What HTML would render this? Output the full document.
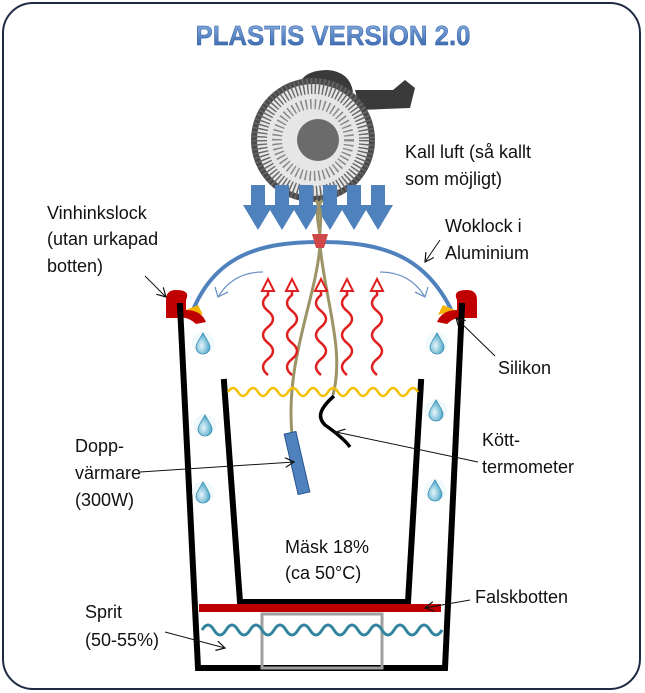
<!DOCTYPE html><html><head><meta charset="utf-8"><style>body{margin:0;background:#fff}svg{display:block}text{font-family:"Liberation Sans",sans-serif;font-size:18px;fill:#111}</style></head><body>
<svg width="645" height="693" viewBox="0 0 645 693" xmlns="http://www.w3.org/2000/svg">
<defs>
<linearGradient id="tg" x1="0" y1="0" x2="0" y2="1"><stop offset="0" stop-color="#8fb4e3"/><stop offset="1" stop-color="#2f5fa8"/></linearGradient>
<marker id="ar" markerWidth="10" markerHeight="10" refX="9" refY="5" orient="auto"><path d="M0,0 L9,5 L0,10" fill="none" stroke="#111" stroke-width="1.2"/></marker>
<radialGradient id="dg" cx="0.4" cy="0.6" r="0.6"><stop offset="0" stop-color="#e8f6fb"/><stop offset="1" stop-color="#4aa6c8"/></radialGradient>
<g id="drop"><circle r="11" fill="#eaf6fb" opacity="0.7"/><path d="M0,-10 C4,-3 7,1 7,4 A7,7 0 0 1 -7,4 C-7,1 -4,-3 0,-10Z" fill="url(#dg)" stroke="#3a8fb5" stroke-width="0.8"/></g>
<g id="sq"><path d="M0,90 q-10,-8 0,-16 q10,-8 0,-16 q-10,-8 0,-16 q10,-8 0,-16 q-10,-8 0,-16 l0,-6" fill="none" stroke="#e02020" stroke-width="2.5"/><path d="M-6,6 L0,-6 L6,6 Z" fill="#fff" stroke="#e02020" stroke-width="2"/></g>
</defs>
<rect x="3" y="3" width="637" height="686" rx="30" fill="#fff" stroke="#1f2a44" stroke-width="2"/>
<text x="333" y="45" text-anchor="middle" textLength="275" lengthAdjust="spacingAndGlyphs" style="font-size:28px;font-weight:bold;fill:url(#tg);stroke:#2f5fa8;stroke-width:0.5">PLASTIS VERSION 2.0</text>
<!-- fan -->
<path d="M298,90 q2,-20 30,-20 q22,2 25,22 z" fill="#3a3a3a"/>
<path d="M355,90 l38,0 l12,-10 l10,8 l-5,20 l-50,2z" fill="#3a3a3a"/>
<circle cx="313" cy="140" r="62" fill="#4a4a4a"/>
<circle cx="313" cy="140" r="56" fill="#e6e6e6"/>
<circle cx="313" cy="140" r="54" fill="none" stroke="#666" stroke-width="16" stroke-dasharray="1.5 2.5"/>
<circle cx="313" cy="140" r="36" fill="none" stroke="#888" stroke-width="10" stroke-dasharray="1.5 3"/>
<circle cx="318" cy="140" r="21" fill="#6b6b6b"/>
<!-- blue arrows -->
<g fill="#4f81bd">
<path d="M251,185h14v20h8l-15,25l-15,-25h8z"/><path d="M275,185h14v20h8l-15,25l-15,-25h8z"/><path d="M299,185h14v20h8l-15,25l-15,-25h8z"/><path d="M323,185h14v20h8l-15,25l-15,-25h8z"/><path d="M347,185h14v20h8l-15,25l-15,-25h8z"/><path d="M371,185h14v20h8l-15,25l-15,-25h8z"/>
</g>
<!-- wires -->
<path d="M316,200 C325,215 318,230 320,245 C316,300 285,360 292,435" fill="none" stroke="#9c9466" stroke-width="3"/>
<path d="M322,200 C312,215 322,230 320,245 C325,300 345,350 333,395" fill="none" stroke="#9c9466" stroke-width="3"/>
<!-- dome -->
<path d="M190,318 C212,255 260,242 320,242 C382,242 428,255 455,318" fill="none" stroke="#4f81bd" stroke-width="4"/>
<path d="M312,234 h16 l-4,14 h-8z" fill="#d04848"/>
<path d="M263,272 q-30,0 -45,25 M215,287 l3,10 l10,-5" fill="none" stroke="#6d93c6" stroke-width="1.3"/>
<path d="M380,272 q30,0 45,25 M428,287 l-3,10 l-10,-5" fill="none" stroke="#6d93c6" stroke-width="1.3"/>
<use href="#sq" x="268" y="285"/><use href="#sq" x="292" y="285"/><use href="#sq" x="321" y="285"/><use href="#sq" x="347" y="285"/><use href="#sq" x="377" y="285"/>
<!-- rims -->
<path d="M186,310 l12,-5 l5,10 z" fill="#f5b400"/><path d="M455,310 l-12,-5 l-5,10z" fill="#f5b400"/>
<path d="M166,300 q0,-10 10,-10 q15,0 10,10 l0,10 q15,0 20,12 l-10,2 q-8,-8 -18,-6 l-12,0z" fill="#c00000"/>
<path d="M477,300 q0,-10 -10,-10 q-15,0 -10,10 l0,10 q-15,0 -20,12 l10,2 q8,-8 18,-6 l12,0z" fill="#c00000"/>
<!-- buckets -->
<g stroke="#000" stroke-width="6" fill="none" stroke-linecap="square">
<path d="M180,306 L198,668 L445,668 L462,306"/>
<path d="M224,382 L240,602 L408,602 L421,382"/>
</g>
<path d="M228,392 q5,-8 10,0 q5,8 10,0 q5,-8 10,0 q5,8 10,0 q5,-8 10,0 q5,8 10,0 q5,-8 10,0 q5,8 10,0 q5,-8 10,0 q5,8 10,0 q5,-8 10,0 q5,8 10,0 q5,-8 10,0 q5,8 10,0 q5,-8 10,0 q5,8 10,0 q5,-8 10,0 q5,8 10,0 q5,-8 10,0" fill="none" stroke="#f5c000" stroke-width="2.5"/>
<rect x="199" y="604" width="242" height="8" fill="#c00000"/>
<rect x="262" y="614" width="120" height="54" fill="none" stroke="#a0a0a0" stroke-width="3"/>
<path d="M202,630 q6,-10 12,0 q6,10 12,0 q6,-10 12,0 q6,10 12,0 q6,-10 12,0 q6,10 12,0 q6,-10 12,0 q6,10 12,0 q6,-10 12,0 q6,10 12,0 q6,-10 12,0 q6,10 12,0 q6,-10 12,0 q6,10 12,0 q6,-10 12,0 q6,10 12,0 q6,-10 12,0 q6,10 12,0 q6,-10 12,0 q6,10 12,0" fill="none" stroke="#31849b" stroke-width="3"/>
<!-- heater and thermometer -->
<rect x="291" y="432" width="12" height="62" fill="#4f81bd" stroke="#2a5490" transform="rotate(-13 297 463)"/>
<path d="M334,396 C318,410 318,418 325,425 C335,432 345,440 350,447" fill="none" stroke="#000" stroke-width="3.5"/>
<use href="#drop" x="203" y="343"/><use href="#drop" x="205" y="425"/><use href="#drop" x="203" y="492"/>
<use href="#drop" x="437" y="343"/><use href="#drop" x="436" y="410"/><use href="#drop" x="435" y="490"/>
<!-- leaders -->
<g stroke="#111" stroke-width="1" fill="none" marker-end="url(#ar)">
<line x1="145" y1="276" x2="166" y2="297"/><line x1="440" y1="240" x2="425" y2="262"/>
<line x1="495" y1="356" x2="456" y2="318"/><line x1="140" y1="472" x2="294" y2="462"/>
<line x1="478" y1="462" x2="336" y2="432"/><line x1="470" y1="600" x2="425" y2="608"/>
<line x1="165" y1="632" x2="225" y2="648"/>
</g>
<text x="47" y="219">Vinhinkslock</text><text x="47" y="245">(utan urkapad</text><text x="47" y="272">botten)</text>
<text x="405" y="158">Kall luft (så kallt</text><text x="405" y="185">som möjligt)</text>
<text x="445" y="232">Woklock i</text><text x="445" y="259">Aluminium</text>
<text x="498" y="374">Silikon</text>
<text x="75" y="452">Dopp-</text><text x="75" y="479">värmare</text><text x="75" y="506">(300W)</text>
<text x="482" y="446">Kött-</text><text x="482" y="473">termometer</text>
<text x="285" y="553">Mäsk 18%</text><text x="285" y="579">(ca 50°C)</text>
<text x="475" y="603">Falskbotten</text>
<text x="85" y="618">Sprit</text><text x="85" y="646">(50-55%)</text>
</svg></body></html>
